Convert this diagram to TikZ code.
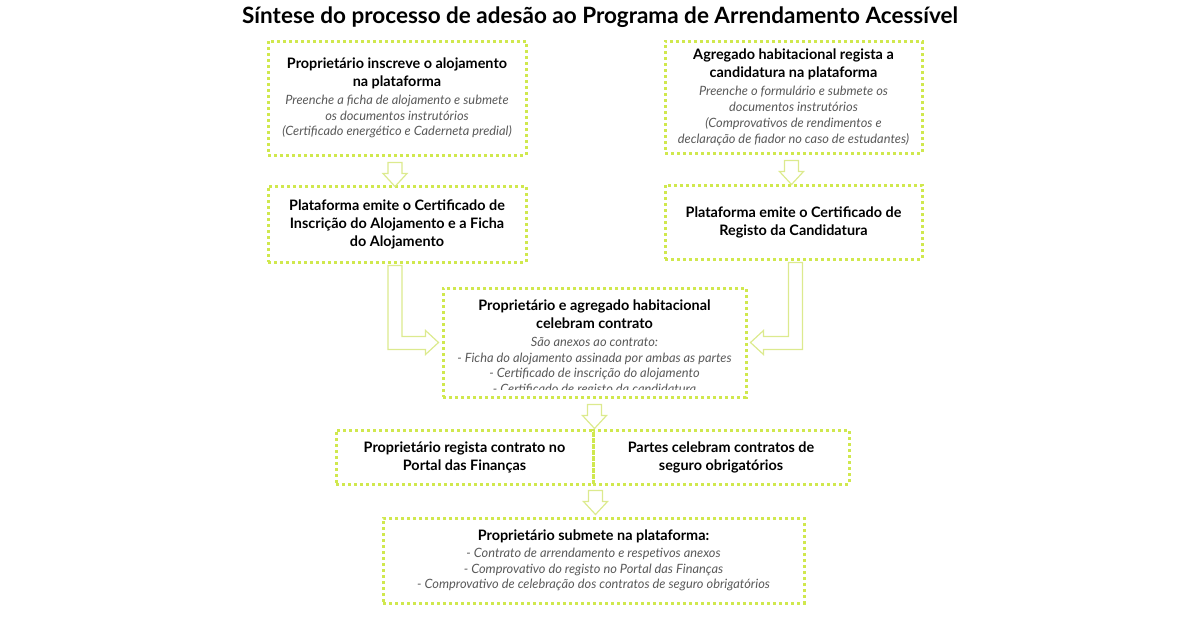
\documentclass[tikz,border=0pt]{standalone}
\usepackage{fontspec}
\setmainfont{Lato}
\usetikzlibrary{calc}
\definecolor{verde}{HTML}{D0E84E}
\definecolor{setacor}{HTML}{DCEA8E}
\definecolor{cinza}{HTML}{595959}
\newcommand{\detalhe}{\fontsize{6.4}{7.5}\selectfont\mdseries\itshape\color{cinza}}

\begin{document}
\begin{tikzpicture}[x=0.5pt,y=-0.5pt,
	caixa/.style={draw=verde,line width=1.5pt,dash pattern=on 1.5pt off 1.5pt,inner sep=0pt},
	texto/.style={align=center,inner sep=0pt,font=\fontsize{7.2}{9}\selectfont\bfseries},
	seta/.style={draw=setacor,line width=0.6pt,line join=miter},
	setav/.pic={\draw[seta] (-7,0) -- (7,0) -- (7,11) -- (12,11) -- (0,24) -- (-12,11) -- (-7,11) -- cycle;}]
			
				\useasboundingbox (0,0) rectangle (1200,627);
				
				\node[font=\fontsize{11.25}{13}\selectfont\bfseries] (titulo) at (600,17) {Síntese do processo de adesão ao Programa de Arrendamento Acessível};
				
				\node[caixa,texto,minimum width=129pt,minimum height=57pt] (inscreve) at (397,98) {Proprietário inscreve o alojamento\\na plataforma\\\detalhe Preenche a ficha de alojamento e submete\\[-1.2pt]\detalhe os documentos instrutórios\\[-1.2pt]\detalhe (Certificado energético e Caderneta predial)};
				\node[caixa,texto,minimum width=128.5pt,minimum height=56pt] (candidatura) at (793.5,97) {Agregado habitacional regista a\\candidatura na plataforma\\\detalhe Preenche o formulário e submete os\\[-1pt]\detalhe documentos instrutórios\\[-1pt]\detalhe (Comprovativos de rendimentos e\\[-1pt]\detalhe declaração de fiador no caso de estudantes)};
				
				\node[caixa,texto,minimum width=129pt,minimum height=38pt] (certAloj) at (397,224) {Plataforma emite o Certificado de\\Inscrição do Alojamento e a Ficha\\do Alojamento};
				\node[caixa,texto,minimum width=128.5pt,minimum height=37pt] (certCand) at (793.5,222) {Plataforma emite o Certificado de\\Registo da Candidatura};
				
				\node[caixa,minimum width=151.5pt,minimum height=54.5pt] (contrato) at (594.5,342.5) {};
				\begin{scope}
					\clip (contrato.north west) rectangle ($(contrato.south east)+(0,-9)$);
					\node[texto] (contratoTxt) at (594.5,348) {Proprietário e agregado habitacional\\celebram contrato\\\detalhe São anexos ao contrato:\\[-1.2pt]\detalhe - Ficha do alojamento assinada por ambas as partes\\[-1.2pt]\detalhe - Certificado de inscrição do alojamento\\[-1.2pt]\detalhe - Certificado de registo da candidatura};
				\end{scope}
				
				\node[caixa,texto,minimum width=128.5pt,minimum height=27pt] (registo) at (464.5,457) {Proprietário regista contrato no\\Portal das Finanças};
				\node[caixa,texto,minimum width=128pt,minimum height=27pt] (seguro) at (721,457) {Partes celebram contratos de\\seguro obrigatórios};
				
				\node[caixa,texto,minimum width=210.5pt,minimum height=42.5pt] (submete) at (593.5,560.5) {Proprietário submete na plataforma:\\[-0.5pt]\detalhe - Contrato de arrendamento e respetivos anexos\\[-1.2pt]\detalhe - Comprovativo do registo no Portal das Finanças\\[-1.2pt]\detalhe - Comprovativo de celebração dos contratos de seguro obrigatórios};
				
				\pic at ($(inscreve.south)+(-2,6)$) {setav};
				\pic at ($(candidatura.south)+(-2,6)$) {setav};
				\pic at ($(contrato.south)+(0,6)$) {setav};
				\pic at ($(registo.south east)+(1,5)$) {setav};
				
				\draw[seta] ($(certAloj.south)+(-9,2)$) -- ($(certAloj.south)+(5,2)$) -- ($(certAloj.south |- contrato.west)+(5,-6)$) -- ($(contrato.west)+(-16,-6)$) -- ($(contrato.west)+(-16,-12)$) -- ($(contrato.west)+(-3,0)$) -- ($(contrato.west)+(-16,12)$) -- ($(contrato.west)+(-16,7)$) -- ($(certAloj.south |- contrato.west)+(-9,7)$) -- cycle;
				\draw[seta] ($(certCand.south)+(9,2)$) -- ($(certCand.south)+(-5,2)$) -- ($(certCand.south |- contrato.east)+(-5,-6)$) -- ($(contrato.east)+(16,-6)$) -- ($(contrato.east)+(16,-12)$) -- ($(contrato.east)+(3,0)$) -- ($(contrato.east)+(16,12)$) -- ($(contrato.east)+(16,7)$) -- ($(certCand.south |- contrato.east)+(9,7)$) -- cycle;

			\end{tikzpicture}
\end{document}
